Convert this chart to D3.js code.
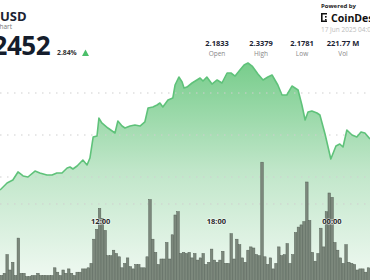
<!DOCTYPE html>
<html>
<head>
<meta charset="utf-8">
<script src="https://cdn.jsdelivr.net/npm/d3@7"></script>
<style>
  body { margin: 0; background: #fff; }
  svg { display: block; font-family: "Open Sans", Inter, sans-serif; }
</style>
</head>
<body>
<div id="chart"></div>
<script>
// price line (time of day, price)
const lineTimes = ["06:48", "07:10", "07:28", "07:44", "08:00", "08:15", "08:37", "08:52", "09:14", "09:30",
  "09:45", "10:01", "10:17", "10:26", "10:35", "10:48", "11:06", "11:19", "11:28", "11:38",
  "11:50", "11:56", "12:05", "12:24", "12:46", "12:55", "13:08", "13:17", "13:33", "13:48",
  "14:04", "14:19", "14:29", "14:44", "14:57", "15:06", "15:15", "15:31", "15:46", "15:53",
  "16:05", "16:15", "16:21", "16:30", "16:46", "17:01", "17:11", "17:20", "17:32", "17:48",
  "18:04", "18:19", "18:35", "18:47", "19:00", "19:15", "19:28", "19:40", "19:53", "20:11",
  "20:27", "20:42", "20:55", "21:13", "21:26", "21:41", "21:57", "22:16", "22:28", "22:38",
  "22:47", "22:59", "23:15", "23:24", "23:40", "23:58", "00:14", "00:26", "00:36", "00:48",
  "01:04", "01:19", "01:32", "01:44", "02:00"];
const linePrices = [2.1845, 2.1929, 2.1964, 2.2060, 2.2012, 2.2000, 2.2071, 2.2048, 2.2024, 2.2024,
  2.2048, 2.2048, 2.2107, 2.2119, 2.2095, 2.2131, 2.2202, 2.2143, 2.2226, 2.2476,
  2.2488, 2.2702, 2.2643, 2.2583, 2.2524, 2.2667, 2.2607, 2.2583, 2.2607, 2.2619,
  2.2607, 2.2655, 2.2821, 2.2833, 2.2857, 2.2881, 2.2833, 2.2917, 2.2940, 2.3095,
  2.3190, 2.3131, 2.3060, 2.3071, 2.3119, 2.3155, 2.3179, 2.3143, 2.3190, 2.3107,
  2.3155, 2.3119, 2.3238, 2.3238, 2.3202, 2.3274, 2.3333, 2.3357, 2.3321, 2.3226,
  2.3155, 2.3190, 2.3214, 2.3095, 2.2976, 2.2976, 2.3083, 2.3036, 2.2857, 2.2679,
  2.2774, 2.2786, 2.2762, 2.2738, 2.2512, 2.2214, 2.2369, 2.2393, 2.2357, 2.2560,
  2.2500, 2.2476, 2.2536, 2.2524, 2.2452];

// volume bars (millions), left to right
const volumes = [0.5, 0.7, 2.4, 1.0, 1.7, 0.5, 3.9, 0.7, 0.7, 0.4,
  0.4, 0.5, 0.5, 0.7, 0.5, 0.5, 0.5, 0.5, 0.5, 1.2,
  0.8, 0.5, 1.0, 0.7, 1.1, 0.7, 0.5, 0.8, 0.8, 1.1,
  1.1, 1.2, 1.6, 3.8, 4.7, 6.6, 5.7, 4.6, 2.3, 2.3,
  2.8, 2.5, 2.2, 1.2, 1.6, 2.1, 1.3, 1.1, 1.5, 1.5,
  1.2, 1.2, 2.2, 7.4, 3.8, 2.6, 1.5, 2.0, 2.0, 3.5,
  2.0, 4.2, 6.0, 6.3, 2.5, 2.6, 2.5, 2.6, 2.1, 2.5,
  1.9, 2.1, 2.5, 1.5, 1.7, 2.9, 1.9, 1.7, 1.9, 2.7,
  1.6, 1.6, 4.3, 2.0, 3.8, 3.3, 2.1, 1.7, 2.8, 3.1,
  3.0, 2.4, 2.3, 10.8, 2.2, 1.5, 2.1, 1.1, 1.6, 3.1,
  2.3, 2.4, 3.4, 1.6, 2.4, 4.4, 4.9, 5.1, 5.4, 9.0,
  5.5, 2.6, 1.8, 2.5, 4.8, 3.1, 6.3, 8.0, 7.6, 3.5,
  2.8, 2.1, 1.6, 3.3, 1.7, 1.6, 1.5, 1.0, 1.1, 1.1,
  0.8, 1.2];

const timeTicks = ["12:00", "18:00", "00:00"];
const priceTicks = [2.20, 2.25, 2.30];
const volumeTicks = [7];

const statValues = ["2.1833", "2.3379", "2.1781", "221.77 M"];
const statLabels = ["Open", "High", "Low", "Vol"];

const width = 370, height = 280;

// times after midnight belong to the next day
const parseHM = d3.timeParse("%Y-%m-%d %H:%M");
function toDate(hm) {
  const h = +hm.slice(0, 2);
  return parseHM((h < 6 ? "2025-06-17 " : "2025-06-16 ") + hm);
}
const line = lineTimes.map((t, i) => ({ t: toDate(t), p: linePrices[i] }));

const x = d3.scaleTime()
  .domain([toDate("06:48"), toDate("02:00")])
  .range([0, width]);
const y = d3.scaleLinear().domain([2.15, 2.35]).range([219, 51]);
const yVol = d3.scaleLinear().domain([0, 10]).range([281, 171]);
const xBar = d3.scaleBand().domain(d3.range(volumes.length)).range([0, width]).padding(0.1);

const svg = d3.select("#chart").append("svg")
  .attr("width", width)
  .attr("height", height);

const defs = svg.append("defs");
const grad = defs.append("linearGradient")
  .attr("id", "area-fill")
  .attr("gradientUnits", "userSpaceOnUse")
  .attr("x1", 0).attr("x2", 0).attr("y1", 60).attr("y2", height);
grad.append("stop").attr("offset", "0%").attr("stop-color", "#76cc8a");
grad.append("stop").attr("offset", "50%").attr("stop-color", "#c0e6c9");
grad.append("stop").attr("offset", "100%").attr("stop-color", "#f0f9f2");

// area + line
svg.append("path")
  .datum(line)
  .attr("fill", "url(#area-fill)")
  .attr("d", d3.area().x(d => x(d.t)).y0(height).y1(d => y(d.p)));

// dotted grid
svg.append("g").selectAll("line")
  .data(priceTicks)
  .join("line")
  .attr("x1", 0).attr("x2", width)
  .attr("y1", d => y(d)).attr("y2", d => y(d))
  .attr("stroke", "#cfcfcf")
  .attr("stroke-width", 1)
  .attr("stroke-dasharray", "1.5,5.5");
svg.append("g").selectAll("line")
  .data(volumeTicks)
  .join("line")
  .attr("x1", 0).attr("x2", width)
  .attr("y1", d => yVol(d)).attr("y2", d => yVol(d))
  .attr("stroke", "#cfcfcf")
  .attr("stroke-width", 1)
  .attr("stroke-dasharray", "1.5,5.5");

svg.append("path")
  .datum(line)
  .attr("fill", "none")
  .attr("stroke", "#5fc27a")
  .attr("stroke-width", 1.6)
  .attr("stroke-linejoin", "round")
  .attr("d", d3.line().x(d => x(d.t)).y(d => y(d.p)));

// volume bars
svg.append("g").selectAll("rect")
  .data(volumes)
  .join("rect")
  .attr("x", (d, i) => xBar(i))
  .attr("y", d => yVol(d))
  .attr("width", xBar.bandwidth())
  .attr("height", d => yVol(0) - yVol(d))
  .attr("fill", "#7c887c")
  .attr("stroke", "#556056")
  .attr("stroke-width", 0.5);

// time labels
const axis = svg.append("g")
  .attr("transform", "translate(0,216)")
  .call(d3.axisBottom(x)
    .tickValues(timeTicks.map(toDate))
    .tickFormat(d3.timeFormat("%H:%M"))
    .tickSize(0));
axis.select(".domain").remove();
axis.selectAll("text")
  .attr("font-family", "'Open Sans', sans-serif")
  .attr("font-size", 7.5)
  .attr("font-weight", 700)
  .attr("fill", "#2b2b2b")
  .attr("stroke", "rgba(255,255,255,0.6)")
  .attr("stroke-width", 1.5)
  .attr("paint-order", "stroke");

// header
svg.append("text").attr("x", 0).attr("y", 21)
  .attr("font-size", 13).attr("font-weight", 700).attr("fill", "#1b2333")
  .text("USD");
svg.append("text").attr("x", 12).attr("y", 29).attr("text-anchor", "end")
  .attr("font-size", 6.5).attr("fill", "#777")
  .text("Chart");
svg.append("text").attr("x", 50).attr("y", 55).attr("text-anchor", "end")
  .attr("font-size", 26).attr("font-weight", 700).attr("fill", "#151d2c")
  .attr("letter-spacing", -0.5)
  .text("2.2452");
svg.append("text").attr("x", 57).attr("y", 55)
  .attr("font-size", 6.8).attr("font-weight", 700).attr("fill", "#333")
  .text("2.84%");
svg.append("path")
  .attr("d", "M82,56L85.5,49.5L89,56Z")
  .attr("fill", "#4cbf6a");

const statX = [217, 261, 302, 343];
statValues.forEach((v, i) => {
  svg.append("text").attr("x", statX[i]).attr("y", 46).attr("text-anchor", "middle")
    .attr("font-size", 7.5).attr("font-weight", 700).attr("fill", "#1b2333").text(v);
  svg.append("text").attr("x", statX[i]).attr("y", 56).attr("text-anchor", "middle")
    .attr("font-size", 6.5).attr("fill", "#888").text(statLabels[i]);
});

svg.append("text").attr("x", 321).attr("y", 8)
  .attr("font-size", 6).attr("font-weight", 700).attr("fill", "#222")
  .text("Powered by");
// CoinDesk mark
const logo = svg.append("g").attr("fill", "#111");
logo.append("path").attr("d", "M321,13h6v1.6h-4.4v5.8h4.4v1.6h-6Z");
logo.append("rect").attr("x", 325).attr("y", 16).attr("width", 1.6).attr("height", 1.6);
logo.append("rect").attr("x", 325).attr("y", 19).attr("width", 1.6).attr("height", 1.6);
svg.append("text").attr("x", 331).attr("y", 22)
  .attr("font-size", 10.5).attr("font-weight", 700).attr("fill", "#111")
  .text("CoinDesk");
svg.append("text").attr("x", 321).attr("y", 32)
  .attr("font-size", 6.5).attr("fill", "#bbb")
  .text("17 Jun 2025 04:00 UTC");
</script>
</body>
</html>
